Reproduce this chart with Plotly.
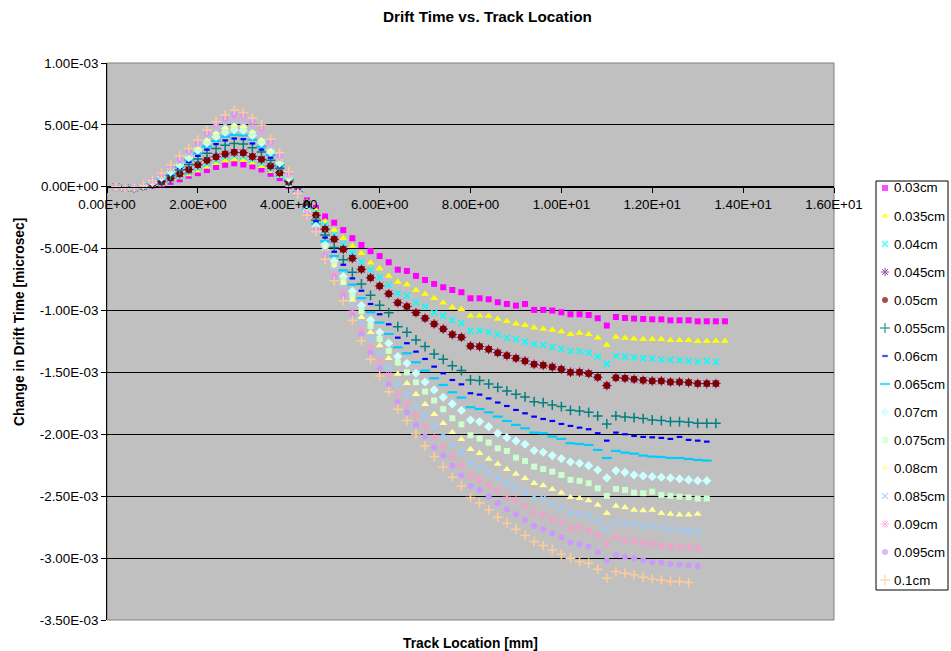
import plotly.graph_objects as go

W, H = 951, 651

# ---------------- data ----------------
track_mm = [0.2, 0.4, 0.6, 0.8, 1.0, 1.2, 1.4, 1.6, 1.8, 2.0,
            2.2, 2.4, 2.6, 2.8, 3.0, 3.2, 3.4, 3.6, 3.8, 4.0,
            4.2, 4.4, 4.6, 4.8, 5.0, 5.2, 5.4, 5.6, 5.8, 6.0,
            6.2, 6.4, 6.6, 6.8, 7.0, 7.2, 7.4, 7.6, 7.8, 8.0,
            8.2, 8.4, 8.6, 8.8, 9.0, 9.2, 9.4, 9.6, 9.8, 10.0,
            10.2, 10.4, 10.6, 10.8, 11.0, 11.2, 11.4, 11.6, 11.8, 12.0,
            12.2, 12.4, 12.6, 12.8, 13.0, 13.2, 13.4, 13.6]

series_names = ["0.03cm", "0.035cm", "0.04cm", "0.045cm", "0.05cm", "0.055cm", "0.06cm",
                "0.065cm", "0.07cm", "0.075cm", "0.08cm", "0.085cm", "0.09cm", "0.095cm", "0.1cm"]

# values in units of 1e-3 microsec
v030 = [0.0, -0.01, -0.01, 0.0, 0.01, 0.02, 0.04, 0.06, 0.09, 0.11,
        0.135, 0.16, 0.178, 0.19, 0.18, 0.165, 0.14, 0.105, 0.07, 0.005,
        -0.03, -0.11, -0.17, -0.24, -0.29, -0.35, -0.415, -0.47, -0.52, -0.56,
        -0.61, -0.67, -0.68, -0.72, -0.753, -0.785, -0.812, -0.834, -0.852, -0.901,
        -0.901, -0.909, -0.933, -0.947, -0.96, -0.947, -0.995, -0.995, -1.0, -1.014,
        -1.03, -1.03, -1.036, -1.062, -1.121, -1.052, -1.06, -1.065, -1.068, -1.071,
        -1.071, -1.079, -1.079, -1.079, -1.087, -1.087, -1.087, -1.087]
v035 = [0.0, -0.01, -0.01, 0.0, 0.01, 0.025, 0.05, 0.075, 0.1, 0.13,
        0.16, 0.19, 0.21, 0.22, 0.215, 0.195, 0.165, 0.125, 0.085, 0.01,
        -0.035, -0.12, -0.19, -0.28, -0.35, -0.416, -0.478, -0.538, -0.613, -0.661,
        -0.72, -0.77, -0.79, -0.835, -0.866, -0.901, -0.936, -0.974, -0.99, -1.041,
        -1.041, -1.044, -1.068, -1.087, -1.106, -1.119, -1.138, -1.149, -1.157, -1.17,
        -1.192, -1.181, -1.192, -1.219, -1.278, -1.213, -1.221, -1.227, -1.232, -1.232,
        -1.232, -1.24, -1.24, -1.24, -1.248, -1.248, -1.246, -1.246]
v040 = [0.0, -0.01, -0.01, 0.0, 0.015, 0.03, 0.055, 0.085, 0.115, 0.15,
        0.185, 0.215, 0.24, 0.25, 0.245, 0.22, 0.19, 0.14, 0.095, 0.02,
        -0.04, -0.13, -0.21, -0.31, -0.389, -0.462, -0.532, -0.605, -0.672, -0.731,
        -0.793, -0.86, -0.88, -0.935, -0.968, -1.017, -1.041, -1.076, -1.103, -1.162,
        -1.162, -1.175, -1.194, -1.219, -1.232, -1.251, -1.272, -1.278, -1.294, -1.308,
        -1.326, -1.326, -1.342, -1.372, -1.431, -1.367, -1.372, -1.38, -1.386, -1.388,
        -1.396, -1.399, -1.399, -1.405, -1.413, -1.407, -1.415]
v050 = [0.0, -0.01, -0.01, 0.005, 0.02, 0.04, 0.07, 0.105, 0.14, 0.177,
        0.215, 0.243, 0.265, 0.278, 0.275, 0.245, 0.222, 0.168, 0.114, 0.04,
        -0.04, -0.14, -0.23, -0.343, -0.424, -0.505, -0.578, -0.667, -0.735, -0.801,
        -0.865, -0.936, -0.968, -1.017, -1.062, -1.108, -1.149, -1.194, -1.216, -1.286,
        -1.291, -1.313, -1.34, -1.364, -1.385, -1.407, -1.434, -1.442, -1.456, -1.474,
        -1.498, -1.498, -1.509, -1.539, -1.606, -1.542, -1.547, -1.555, -1.563, -1.569,
        -1.569, -1.577, -1.577, -1.582, -1.59, -1.59, -1.59]
v045 = list(v050)  # the 0.045cm points sit underneath the 0.05cm points
v055 = [0.0, -0.01, -0.005, 0.005, 0.025, 0.055, 0.09, 0.135, 0.18, 0.225,
        0.27, 0.31, 0.335, 0.35, 0.345, 0.315, 0.28, 0.215, 0.15, 0.055,
        -0.045, -0.16, -0.27, -0.389, -0.49, -0.59, -0.69, -0.785, -0.877, -0.957,
        -1.017, -1.13, -1.175, -1.237, -1.291, -1.351, -1.394, -1.445, -1.485, -1.561,
        -1.566, -1.593, -1.62, -1.649, -1.676, -1.698, -1.736, -1.744, -1.763, -1.776,
        -1.806, -1.811, -1.822, -1.851, -1.916, -1.851, -1.859, -1.865, -1.873, -1.884,
        -1.889, -1.897, -1.897, -1.903, -1.911, -1.911, -1.911]
v060 = [0.0, -0.01, -0.005, 0.005, 0.03, 0.06, 0.1, 0.15, 0.2, 0.25,
        0.3, 0.345, 0.375, 0.39, 0.385, 0.35, 0.3, 0.235, 0.165, 0.06,
        -0.045, -0.17, -0.28, -0.41, -0.525, -0.63, -0.74, -0.84, -0.947, -1.03,
        -1.111, -1.219, -1.264, -1.332, -1.391, -1.453, -1.507, -1.561, -1.596, -1.668,
        -1.679, -1.71, -1.743, -1.771, -1.803, -1.83, -1.857, -1.876, -1.892, -1.916,
        -1.932, -1.946, -1.959, -1.991, -2.051, -1.986, -1.999, -2.013, -2.021, -2.024,
        -2.029, -2.037, -2.021, -2.045, -2.051, -2.059]
v065 = [0.0, -0.01, -0.005, 0.005, 0.03, 0.065, 0.11, 0.16, 0.215, 0.27,
        0.325, 0.37, 0.405, 0.42, 0.415, 0.38, 0.325, 0.255, 0.175, 0.065,
        -0.045, -0.18, -0.3, -0.44, -0.56, -0.675, -0.79, -0.9, -1.014, -1.097,
        -1.189, -1.297, -1.345, -1.418, -1.485, -1.547, -1.601, -1.66, -1.703, -1.781,
        -1.795, -1.822, -1.857, -1.892, -1.924, -1.951, -1.986, -1.991, -2.018, -2.037,
        -2.072, -2.078, -2.086, -2.126, -2.191, -2.134, -2.148, -2.156, -2.172, -2.18,
        -2.183, -2.191, -2.191, -2.199, -2.207, -2.212]
v070 = [0.0, -0.01, -0.005, 0.01, 0.035, 0.075, 0.12, 0.175, 0.235, 0.295,
        0.355, 0.405, 0.44, 0.46, 0.455, 0.415, 0.355, 0.28, 0.19, 0.07,
        -0.05, -0.19, -0.32, -0.47, -0.6, -0.725, -0.845, -0.96, -1.076, -1.175,
        -1.264, -1.372, -1.426, -1.507, -1.577, -1.641, -1.7, -1.754, -1.808, -1.884,
        -1.897, -1.938, -1.991, -2.026, -2.053, -2.08, -2.131, -2.145, -2.172, -2.196,
        -2.223, -2.234, -2.253, -2.288, -2.352, -2.293, -2.307, -2.328, -2.336, -2.342,
        -2.347, -2.352, -2.36, -2.368, -2.374, -2.374]
v075 = [0.0, -0.01, -0.005, 0.01, 0.04, 0.08, 0.13, 0.185, 0.245, 0.305,
        0.37, 0.42, 0.46, 0.48, 0.47, 0.43, 0.37, 0.29, 0.2, 0.075,
        -0.05, -0.195, -0.33, -0.49, -0.625, -0.755, -0.88, -1.003, -1.124, -1.229,
        -1.326, -1.421, -1.499, -1.579, -1.655, -1.727, -1.797, -1.87, -1.919, -2.007,
        -2.034, -2.067, -2.113, -2.134, -2.188, -2.215, -2.261, -2.28, -2.301, -2.328,
        -2.368, -2.376, -2.395, -2.436, -2.497, -2.441, -2.449, -2.471, -2.476, -2.463,
        -2.489, -2.497, -2.503, -2.508, -2.519, -2.519]
v080 = [0.0, -0.01, -0.005, 0.01, 0.04, 0.085, 0.135, 0.195, 0.255, 0.32,
        0.385, 0.44, 0.48, 0.5, 0.49, 0.45, 0.385, 0.305, 0.21, 0.08,
        -0.05, -0.2, -0.34, -0.5, -0.645, -0.78, -0.915, -1.054, -1.175, -1.283,
        -1.386, -1.512, -1.587, -1.676, -1.757, -1.838, -1.91, -1.983, -2.04, -2.12,
        -2.153, -2.199, -2.239, -2.282, -2.32, -2.355, -2.395, -2.414, -2.444, -2.471,
        -2.508, -2.516, -2.535, -2.57, -2.638, -2.578, -2.592, -2.611, -2.616, -2.611,
        -2.638, -2.643, -2.649, -2.649, -2.643]
v085 = [0.0, -0.01, -0.005, 0.01, 0.045, 0.09, 0.145, 0.205, 0.27, 0.34,
        0.41, 0.465, 0.51, 0.53, 0.52, 0.475, 0.41, 0.325, 0.225, 0.09,
        -0.05, -0.205, -0.35, -0.52, -0.67, -0.815, -0.955, -1.108, -1.232, -1.345,
        -1.461, -1.596, -1.682, -1.771, -1.851, -1.937, -2.01, -2.086, -2.147, -2.228,
        -2.27, -2.301, -2.35, -2.395, -2.427, -2.471, -2.508, -2.516, -2.562, -2.589,
        -2.638, -2.643, -2.656, -2.697, -2.762, -2.708, -2.718, -2.724, -2.745, -2.74,
        -2.753, -2.767, -2.772, -2.78, -2.791]
v090 = [0.0, -0.01, -0.005, 0.01, 0.045, 0.095, 0.155, 0.22, 0.285, 0.355,
        0.43, 0.49, 0.54, 0.56, 0.55, 0.505, 0.44, 0.345, 0.24, 0.1,
        -0.05, -0.215, -0.345, -0.54, -0.7, -0.85, -0.995, -1.149, -1.292, -1.399,
        -1.52, -1.674, -1.757, -1.849, -1.938, -2.027, -2.1, -2.18, -2.247, -2.336,
        -2.369, -2.417, -2.455, -2.508, -2.53, -2.578, -2.63, -2.651, -2.683, -2.708,
        -2.759, -2.751, -2.778, -2.818, -2.885, -2.834, -2.853, -2.861, -2.88, -2.885,
        -2.899, -2.907, -2.912, -2.912, -2.926]
v095 = [0.0, -0.01, -0.005, 0.01, 0.05, 0.1, 0.165, 0.217, 0.284, 0.356,
        0.431, 0.508, 0.553, 0.585, 0.58, 0.53, 0.472, 0.364, 0.255, 0.11,
        -0.05, -0.22, -0.35, -0.56, -0.73, -0.885, -1.036, -1.192, -1.34, -1.466,
        -1.596, -1.736, -1.822, -1.924, -2.018, -2.107, -2.172, -2.253, -2.331, -2.417,
        -2.449, -2.503, -2.557, -2.605, -2.646, -2.691, -2.74, -2.767, -2.799, -2.831,
        -2.872, -2.888, -2.909, -2.953, -3.02, -2.974, -2.988, -3.004, -3.017, -3.033,
        -3.036, -3.049, -3.052, -3.057, -3.063]
v100 = [0.0, -0.01, -0.005, 0.01, 0.05, 0.11, 0.175, 0.25, 0.31, 0.378,
        0.458, 0.526, 0.58, 0.62, 0.6, 0.555, 0.5, 0.383, 0.275, 0.122,
        -0.055, -0.23, -0.363, -0.586, -0.76, -0.92, -1.08, -1.243, -1.394, -1.528,
        -1.655, -1.797, -1.889, -1.997, -2.094, -2.18, -2.263, -2.347, -2.417, -2.511,
        -2.554, -2.61, -2.669, -2.718, -2.767, -2.818, -2.866, -2.899, -2.934, -2.969,
        -3.001, -3.028, -3.041, -3.09, -3.16, -3.109, -3.122, -3.135, -3.154, -3.168,
        -3.176, -3.189, -3.189, -3.198]

series_values = [v030, v035, v040, v045, v050, v055, v060, v065,
                 v070, v075, v080, v085, v090, v095, v100]

x_tick_vals = [0, 2, 4, 6, 8, 10, 12, 14, 16]
x_tick_text = ["0.00E+00", "2.00E+00", "4.00E+00", "6.00E+00", "8.00E+00",
               "1.00E+01", "1.20E+01", "1.40E+01", "1.60E+01"]
y_tick_vals = [1e-3, 5e-4, 0.0, -5e-4, -1e-3, -1.5e-3, -2e-3, -2.5e-3, -3e-3, -3.5e-3]
y_tick_text = ["1.00E-03", "5.00E-04", "0.00E+00", "-5.00E-04", "-1.00E-03",
               "-1.50E-03", "-2.00E-03", "-2.50E-03", "-3.00E-03", "-3.50E-03"]

# ---------------- styles ----------------
symbols = ["square", "triangle-up", "x-thin", "asterisk", "circle", "cross-thin", "line-ew",
           "line-ew", "diamond", "square", "triangle-up", "x-thin", "asterisk", "circle", "cross-thin"]
colors = ["#FF00FF", "#FFFF00", "#00FFFF", "#800080", "#800000", "#008080", "#0000FF",
          "#00CCFF", "#CCFFFF", "#CCFFCC", "#FFFF99", "#99CCFF", "#FF99CC", "#CC99FF", "#FFCC99"]
sizes = [6, 7, 6, 8, 7, 7, 4, 7, 7, 6, 7, 6, 7, 6, 7]
line_w = {"x-thin": 1.5, "asterisk": 1.0, "cross-thin": 1.5, "line-ew": 2.2}

FONT = "Arial, Liberation Sans, sans-serif"

# plot area in pixels
PL, PR, PT, PB = 107, 834, 63, 620
XR = [0, 16]
YR = [-3.5e-3, 1e-3]


def fx(px):
    return px / W


def fy(py):
    return 1 - py / H


fig = go.Figure()

for name, vals, sym, col, sz in zip(series_names, series_values, symbols, colors, sizes):
    lw = line_w.get(sym, 0)
    fig.add_trace(go.Scatter(
        x=track_mm[:len(vals)], y=[v * 1e-3 for v in vals],
        mode="markers", name=name, showlegend=False,
        marker=dict(symbol=sym, size=sz, color=col,
                    line=dict(width=lw, color=col)),
        xaxis="x", yaxis="y"))

# ---- custom Excel-like legend ----
LEG_L, LEG_R, LEG_T, LEG_B = 876, 948, 181, 590
leg_y0, leg_dy = 188, 28
legend_sizes = [6, 7, 6, 7, 6, 7, 4, 7, 7, 6, 7, 6, 7, 6, 7]
fig.add_trace(go.Scatter(
    x=[885] * len(series_names),
    y=[leg_y0 + leg_dy * i for i in range(len(series_names))],
    mode="markers", showlegend=False, hoverinfo="skip",
    marker=dict(symbol=symbols, size=legend_sizes, color=colors,
                line=dict(width=[line_w.get(s, 0) for s in symbols], color=colors)),
    xaxis="x2", yaxis="y2"))

annotations = []
for i, name in enumerate(series_names):
    annotations.append(dict(x=fx(892), y=fy(leg_y0 + leg_dy * i), xref="paper", yref="paper",
                            text=name, showarrow=False, xanchor="left", yanchor="middle",
                            font=dict(family=FONT, size=13.33, color="black")))

annotations.append(dict(x=fx(487), y=fy(17), xref="paper", yref="paper",
                        text="<b>Drift Time vs. Track Location</b>", showarrow=False,
                        xanchor="center", yanchor="middle",
                        font=dict(family=FONT, size=15.3, color="black")))
annotations.append(dict(x=fx(470), y=fy(643), xref="paper", yref="paper",
                        text="<b>Track Location [mm]</b>", showarrow=False,
                        xanchor="center", yanchor="middle",
                        font=dict(family=FONT, size=13.8, color="black")))
annotations.append(dict(x=fx(19), y=fy(322), xref="paper", yref="paper",
                        text="<b>Change in Drift Time [microsec]</b>", showarrow=False,
                        textangle=-90, xanchor="center", yanchor="middle",
                        font=dict(family=FONT, size=13.8, color="black")))

shapes = [
    dict(type="rect", xref="paper", yref="paper", x0=fx(PL), x1=fx(PR), y0=fy(PB), y1=fy(PT),
         fillcolor="#C0C0C0", line=dict(color="#808080", width=1), layer="below"),
    dict(type="rect", xref="paper", yref="paper", x0=fx(LEG_L), x1=fx(LEG_R), y0=fy(LEG_B), y1=fy(LEG_T),
         fillcolor="white", line=dict(color="black", width=1), layer="below"),
]

ydom = [fy(PB), fy(PT)]
x_axis_pos = ydom[0] + (0 - YR[0]) / (YR[1] - YR[0]) * (ydom[1] - ydom[0])

fig.update_layout(
    template="none",
    width=W, height=H,
    margin=dict(l=0, r=0, t=0, b=0, pad=0, autoexpand=False),
    paper_bgcolor="white", plot_bgcolor="rgba(0,0,0,0)",
    font=dict(family=FONT, size=13.33, color="black"),
    xaxis=dict(domain=[fx(PL), fx(PR)], range=XR, anchor="free", position=x_axis_pos,
               automargin=False,
               tickvals=x_tick_vals, ticktext=x_tick_text, ticks="outside", ticklen=5,
               tickcolor="black", showline=True, linecolor="black", linewidth=1,
               showgrid=False, zeroline=False, tickfont=dict(family=FONT, size=13.33, color="black")),
    yaxis=dict(domain=ydom, range=YR, anchor="x", automargin=False,
               tickvals=y_tick_vals, ticktext=y_tick_text,
               ticks="outside", ticklen=5, tickcolor="black", showline=True, linecolor="black",
               linewidth=1, showgrid=True, gridcolor="black", gridwidth=1, zeroline=False,
               tickfont=dict(family=FONT, size=13.33, color="black")),
    xaxis2=dict(domain=[fx(LEG_L), fx(LEG_R)], range=[LEG_L, LEG_R], anchor="y2",
                visible=False, fixedrange=True, automargin=False),
    yaxis2=dict(domain=[fy(LEG_B), fy(LEG_T)], range=[LEG_B, LEG_T], anchor="x2",
                visible=False, fixedrange=True, automargin=False),
    shapes=shapes, annotations=annotations,
)

fig.write_html("out.html")
